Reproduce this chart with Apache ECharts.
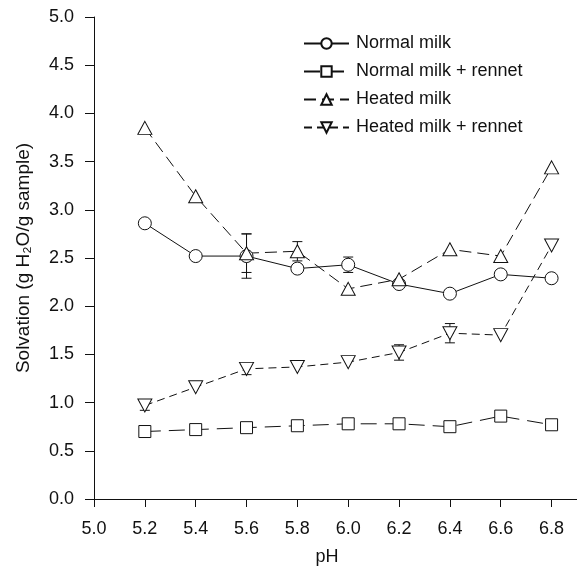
<!DOCTYPE html>
<html>
<head>
<meta charset="utf-8">
<script src="https://cdn.jsdelivr.net/npm/echarts@6/dist/echarts.min.js"></script>
<style>html,body{margin:0;padding:0;background:#fff;}#c{width:577px;height:567px;}</style>
</head>
<body>
<div id="c"></div>
<script>
const pH = [5.2, 5.4, 5.6, 5.8, 6.0, 6.2, 6.4, 6.6, 6.8];
const normalMilk = [2.86, 2.52, 2.52, 2.39, 2.43, 2.23, 2.13, 2.33, 2.29];
const normalRennet = [0.70, 0.72, 0.74, 0.76, 0.78, 0.78, 0.75, 0.86, 0.77];
const heatedMilk = [3.85, 3.14, 2.55, 2.57, 2.18, 2.28, 2.59, 2.52, 3.44];
const heatedRennet = [0.97, 1.16, 1.35, 1.37, 1.42, 1.52, 1.72, 1.70, 2.63];
// error half-widths (0 = none visible)
const normalMilkErr = [0, 0, 0.23, 0, 0.08, 0, 0, 0, 0];
const normalRennetErr = [0, 0, 0, 0, 0, 0, 0, 0, 0];
const heatedMilkErr = [0, 0, 0.2, 0.1, 0, 0, 0, 0, 0];
const heatedRennetErr = [0.05, 0, 0.06, 0, 0, 0.08, 0.1, 0, 0];
const seriesNames = ['Normal milk', 'Normal milk + rennet', 'Heated milk', 'Heated milk + rennet'];
const xTicks = {min: 5.0, max: 6.9, interval: 0.2};
const yTicks = {min: 0, max: 5, interval: 0.5};

const FONT = 'Liberation Sans, Arial, sans-serif';
const triDown = 'path://M0,0 L10,0 L5,9 Z';
const triUp = 'path://M5,0 L10,9 L0,9 Z';

function lineSeries(name, vals, symbol, size, dash) {
  return {
    name: name, type: 'line',
    data: pH.map((x, i) => [x, vals[i]]),
    symbol: symbol, symbolSize: size, showAllSymbol: true,
    lineStyle: {color: '#111', width: 1, type: dash},
    itemStyle: {color: '#fff', borderColor: '#111', borderWidth: 1},
    z: 3
  };
}
function errSeries(vals, errs) {
  const d = [];
  pH.forEach((x, i) => { if (errs[i] > 0) d.push([x, vals[i] - errs[i], vals[i] + errs[i]]); });
  return {
    type: 'custom', z: 2, silent: true,
    data: d,
    renderItem: function (params, api) {
      const lo = api.coord([api.value(0), api.value(1)]);
      const hi = api.coord([api.value(0), api.value(2)]);
      const w = 5;
      const st = {stroke: '#111', lineWidth: 1};
      return {type: 'group', children: [
        {type: 'line', shape: {x1: lo[0], y1: lo[1], x2: hi[0], y2: hi[1]}, style: st},
        {type: 'line', shape: {x1: lo[0]-w, y1: lo[1], x2: lo[0]+w, y2: lo[1]}, style: st},
        {type: 'line', shape: {x1: hi[0]-w, y1: hi[1], x2: hi[0]+w, y2: hi[1]}, style: st}
      ]};
    }
  };
}

const chart = echarts.init(document.getElementById('c'));
chart.setOption({
  animation: false,
  backgroundColor: '#fff',
  textStyle: {fontFamily: FONT},
  grid: {left: 94, right: 0, top: 17, bottom: 68, containLabel: false, outerBoundsMode: 'none'},
  legend: {
    left: 298, top: 28, orient: 'vertical',
    itemWidth: 45, itemHeight: 13, itemGap: 7,
    textStyle: {fontSize: 18, color: '#111', fontFamily: FONT, lineHeight: 21, padding: [0, 0, 0, 2]},
    data: seriesNames
  },
  xAxis: [{
    type: 'value', min: xTicks.min, max: xTicks.max, interval: xTicks.interval,
    name: 'pH', nameLocation: 'middle', nameGap: 49,
    nameTextStyle: {fontSize: 18, color: '#111', padding: [0, 17, 0, 0]},
    axisLine: {onZero: false, lineStyle: {color: '#111', width: 1}},
    axisTick: {show: true, length: 8, lineStyle: {color: '#111'}},
    axisLabel: {fontSize: 18, color: '#111', margin: 21, showMaxLabel: false,
      formatter: v => (Math.abs(v - 6.9) < 1e-6 ? '' : v.toFixed(1))},
    splitLine: {show: false}
  }, {
    type: 'value', position: 'top', min: xTicks.min, max: xTicks.max,
    axisLine: {show: true, lineStyle: {color: '#111', width: 1}},
    axisTick: {show: false}, axisLabel: {show: false}, splitLine: {show: false}
  }],
  yAxis: {
    type: 'value', min: yTicks.min, max: yTicks.max, interval: yTicks.interval,
    name: 'Solvation (g H\u2082O/g sample)', nameLocation: 'middle', nameGap: 61,
    nameTextStyle: {fontSize: 19, color: '#111'},
    axisLine: {show: true, lineStyle: {color: '#111', width: 1}},
    axisTick: {show: true, length: 9, lineStyle: {color: '#111'}},
    axisLabel: {fontSize: 18, color: '#111', margin: 20, formatter: v => v.toFixed(1)},
    splitLine: {show: false}
  },
  series: [
    lineSeries(seriesNames[0], normalMilk, 'circle', 13, 'solid'),
    lineSeries(seriesNames[1], normalRennet, 'rect', 12, [16, 8]),
    lineSeries(seriesNames[2], heatedMilk, triUp, [14, 13], [12, 6]),
    lineSeries(seriesNames[3], heatedRennet, triDown, [14, 13], [8, 5]),
    errSeries(normalMilk, normalMilkErr),
    errSeries(normalRennet, normalRennetErr),
    errSeries(heatedMilk, heatedMilkErr),
    errSeries(heatedRennet, heatedRennetErr)
  ]
});
</script>
</body>
</html>
